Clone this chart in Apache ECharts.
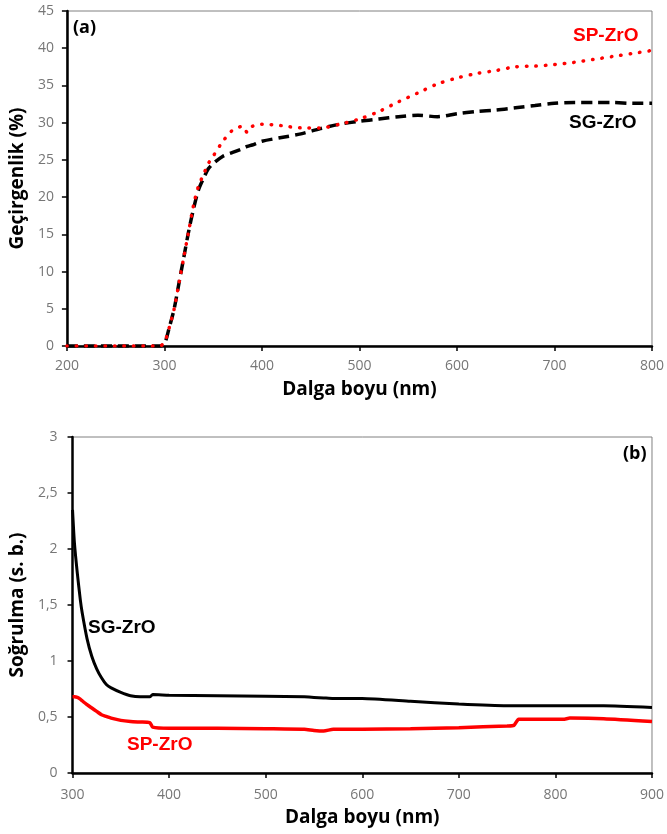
<!DOCTYPE html>
<html>
<head>
<meta charset="utf-8">
<script src="https://cdn.jsdelivr.net/npm/echarts@6/dist/echarts.min.js"></script>
<style>html,body{margin:0;padding:0;background:#fff}#c{width:667px;height:834px}</style>
</head>
<body>
<div id="c"></div>
<script>
// ---- Chart (a): transmittance ----
const waveA = [200,250,290,295,300,305,310,315,320,325,330,335,340,345,350,360,370,380,385,390,400,420,440,460,480,500,520,540,560,580,600,620,640,660,680,700,720,740,760,780,800];
const spTrans = [0,0,0,0,0.5,2.5,5,8.5,12,15.5,19,21.5,23,24.5,25.5,27.5,29,29.5,28.7,29.5,29.8,29.6,29.3,29.3,29.8,30.5,31.5,32.8,34,35.2,36,36.6,37,37.5,37.6,37.8,38.1,38.5,38.9,39.3,39.7];
const sgTrans = [0,0,0,0,0.3,2.5,5,8.5,12,15.5,18.5,21,22.5,23.8,24.5,25.5,26,26.5,26.8,27,27.5,28,28.5,29.2,29.8,30.2,30.5,30.8,31,30.8,31.2,31.5,31.7,32,32.3,32.6,32.7,32.7,32.7,32.6,32.6];
const xTicksA = [200,300,400,500,600,700,800];
const yTicksA = [0,5,10,15,20,25,30,35,40,45];

// ---- Chart (b): absorbance ----
const waveB = [300,302,305,308,310,315,320,325,330,335,340,350,360,370,380,383,400,450,500,540,550,560,570,600,650,700,750,757,762,800,808,815,850,900];
const sgAbs = [2.35,2.05,1.78,1.55,1.43,1.2,1.04,0.93,0.85,0.79,0.76,0.72,0.69,0.68,0.68,0.70,0.695,0.69,0.685,0.68,0.675,0.67,0.665,0.665,0.64,0.615,0.60,0.60,0.60,0.60,0.60,0.60,0.60,0.585];
const spAbs = [0.68,0.68,0.675,0.66,0.645,0.61,0.58,0.55,0.52,0.505,0.49,0.47,0.46,0.455,0.45,0.41,0.40,0.40,0.395,0.39,0.38,0.375,0.39,0.39,0.395,0.405,0.42,0.425,0.48,0.48,0.48,0.49,0.485,0.46];
const xTicksB = [300,400,500,600,700,800,900];
const yTicksB = ['0','0,5','1','1,5','2','2,5','3'];

const pair = (xs, ys) => xs.map((x, i) => [x, ys[i]]);

const FONT = '"Open Sans", sans-serif';
const LBL = '"Liberation Sans", Arial, sans-serif';
const tickColor = '#767676';

function xAxis(gridIndex, min, max, name, gap, margin) {
  return {
    type: 'value', gridIndex, min, max, interval: 100,
    name, nameLocation: 'middle', nameGap: gap,
    nameTextStyle: {fontFamily: FONT, fontWeight: 'bold', fontSize: 19, color: '#000'},
    axisLine: {show: true, lineStyle: {color: '#000', width: 2.5}},
    axisTick: {show: true, inside: false, length: 5, lineStyle: {color: '#000', width: 1.5}},
    axisLabel: {fontFamily: FONT, fontSize: 14, color: tickColor, margin},
    splitLine: {show: false}
  };
}
function yAxis(gridIndex, min, max, interval, name, gap, margin, fmt) {
  return {
    type: 'value', gridIndex, min, max, interval,
    name, nameLocation: 'middle', nameGap: gap,
    nameTextStyle: {fontFamily: FONT, fontWeight: 'bold', fontSize: 19, color: '#000'},
    axisLine: {show: true, lineStyle: {color: '#000', width: 2.5}},
    axisTick: {show: true, inside: false, length: 5, lineStyle: {color: '#000', width: 1.5}},
    axisLabel: {fontFamily: FONT, fontSize: 14, color: tickColor, margin, formatter: fmt},
    splitLine: {show: false}
  };
}

const chart = echarts.init(document.getElementById('c'), null, {renderer: 'canvas'});
chart.setOption({
  animation: false,
  backgroundColor: '#fff',
  grid: [
    {left: 66, top: 11, width: 588, height: 335, show: true, borderColor: '#808080', borderWidth: 1, backgroundColor: 'transparent'},
    {left: 70, top: 437, width: 585, height: 336, show: true, borderColor: '#808080', borderWidth: 1, backgroundColor: 'transparent'}
  ],
  xAxis: [
    xAxis(0, xTicksA[0], xTicksA[xTicksA.length - 1], 'Dalga boyu (nm)', 34, 13),
    xAxis(1, xTicksB[0], xTicksB[xTicksB.length - 1], 'Dalga boyu (nm)', 35, 15)
  ],
  yAxis: [
    yAxis(0, yTicksA[0], yTicksA[yTicksA.length - 1], 5, 'Geçirgenlik (%)', 38, 13, v => String(v)),
    yAxis(1, 0, 3, 0.5, 'Soğrulma (s. b.)', 42, 15, v => yTicksB[Math.round(v * 2)])
  ],
  series: [
    {name: 'SG-ZrO', type: 'line', xAxisIndex: 0, yAxisIndex: 0, data: pair(waveA, sgTrans), showSymbol: false, smooth: 0.3,
     lineStyle: {color: '#000', width: 3.5, type: [11, 6]}, z: 2},
    {name: 'SP-ZrO', type: 'line', xAxisIndex: 0, yAxisIndex: 0, data: pair(waveA, spTrans), showSymbol: false, smooth: 0.3,
     lineStyle: {color: '#ff0000', width: 3.5, type: [0.5, 9], cap: 'round'}, z: 3},
    {name: 'SG-ZrO', type: 'line', xAxisIndex: 1, yAxisIndex: 1, data: pair(waveB, sgAbs), showSymbol: false, smooth: 0.2,
     lineStyle: {color: '#000', width: 3}},
    {name: 'SP-ZrO', type: 'line', xAxisIndex: 1, yAxisIndex: 1, data: pair(waveB, spAbs), showSymbol: false, smooth: 0.2,
     lineStyle: {color: '#ff0000', width: 3.5}}
  ],
  graphic: [
    {type: 'text', x: 73, y: 28, style: {text: '(a)', font: 'bold 18px ' + FONT, fill: '#000', verticalAlign: 'middle'}},
    {type: 'text', x: 573, y: 36, style: {text: 'SP-ZrO', font: 'bold 19px ' + LBL, fill: '#ff0000', verticalAlign: 'middle'}},
    {type: 'text', x: 569, y: 123, style: {text: 'SG-ZrO', font: 'bold 19px ' + LBL, fill: '#000', verticalAlign: 'middle'}},
    {type: 'text', x: 623, y: 454, style: {text: '(b)', font: 'bold 18px ' + FONT, fill: '#000', verticalAlign: 'middle'}},
    {type: 'text', x: 88, y: 628, style: {text: 'SG-ZrO', font: 'bold 19px ' + LBL, fill: '#000', verticalAlign: 'middle'}},
    {type: 'text', x: 127, y: 745, style: {text: 'SP-ZrO', font: 'bold 19px ' + LBL, fill: '#ff0000', verticalAlign: 'middle'}}
  ]
});
</script>
</body>
</html>
